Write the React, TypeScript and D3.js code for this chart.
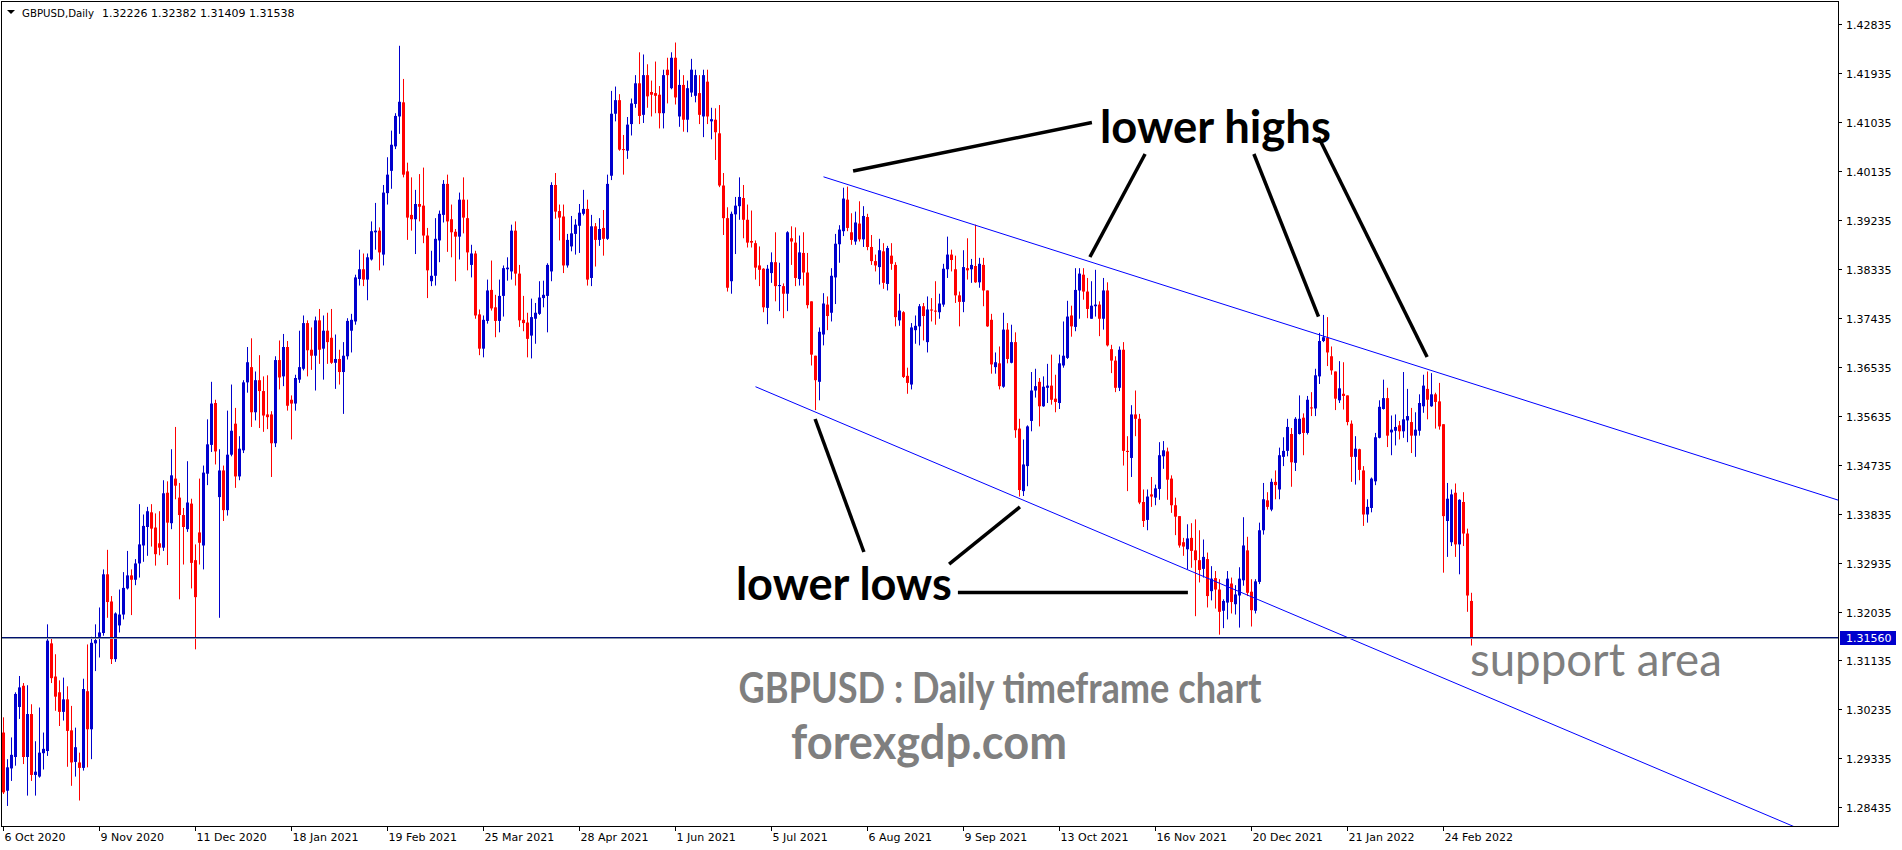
import * as d3 from "d3"

// GBPUSD daily candles, 6 Oct 2020 .. 7 Mar 2022, prices in pips (x 0.0001)
const opens = [
  12981, 12874, 12915, 12936, 13028, 13067, 12936, 13015, 12903, 12900, 12943, 12947, 13145, 13084, 13055, 13019, 13042, 12985, 12927, 12926,
  12916, 13057, 12987, 13145, 13157, 13164, 13272, 13222, 13116, 13178, 13198, 13246, 13270, 13262, 13292, 13325, 13359, 13386, 13358, 13329,
  13321, 13422, 13366, 13448, 13413, 13381, 13355, 13402, 13298, 13349, 13325, 13457, 13510, 13587, 13414, 13463, 13390, 13492, 13549, 13452,
  13500, 13625, 13653, 13570, 13629, 13609, 13566, 13566, 13513, 13666, 13636, 13690, 13593, 13586, 13630, 13650, 13734, 13685, 13674, 13739,
  13687, 13720, 13707, 13661, 13668, 13644, 13673, 13720, 13737, 13815, 13833, 13814, 13851, 13901, 13904, 13860, 13973, 14014, 14059, 14114,
  14140, 14013, 13933, 13925, 13953, 13950, 13895, 13811, 13821, 13886, 13933, 13990, 13925, 13902, 13893, 13961, 13927, 13841, 13862, 13750,
  13687, 13738, 13795, 13763, 13738, 13784, 13833, 13829, 13904, 13825, 13740, 13735, 13711, 13742, 13751, 13780, 13784, 13829, 13988, 13940,
  13930, 13840, 13875, 13898, 13913, 13935, 13944, 13817, 13912, 13887, 13909, 13889, 14005, 14119, 14144, 14054, 14051, 14100, 14137, 14175,
  14117, 14190, 14159, 14157, 14154, 14120, 14200, 14166, 14222, 14114, 14172, 14108, 14158, 14152, 14157, 14114, 14178, 14105, 14108, 14083,
  13987, 13927, 13811, 13934, 13949, 13964, 13924, 13885, 13881, 13840, 13834, 13762, 13826, 13846, 13802, 13802, 13788, 13890, 13882, 13815,
  13863, 13827, 13774, 13674, 13626, 13713, 13768, 13753, 13818, 13879, 13903, 13961, 13901, 13884, 13917, 13888, 13929, 13874, 13848, 13837,
  13866, 13806, 13858, 13841, 13739, 13754, 13637, 13621, 13721, 13728, 13765, 13699, 13759, 13757, 13754, 13768, 13833, 13860, 13833, 13785,
  13773, 13835, 13833, 13839, 13809, 13841, 13794, 13740, 13653, 13660, 13617, 13722, 13661, 13699, 13540, 13425, 13471, 13554, 13610, 13626,
  13581, 13615, 13619, 13595, 13587, 13656, 13670, 13748, 13727, 13794, 13823, 13792, 13742, 13765, 13768, 13742, 13794, 13686, 13665, 13615,
  13685, 13499, 13486, 13566, 13558, 13405, 13372, 13419, 13413, 13429, 13489, 13498, 13448, 13399, 13379, 13331, 13318, 13339, 13316, 13298,
  13282, 13300, 13241, 13265, 13244, 13205, 13220, 13255, 13217, 13233, 13261, 13316, 13240, 13205, 13258, 13353, 13408, 13391, 13442, 13428,
  13488, 13499, 13530, 13477, 13530, 13560, 13532, 13579, 13577, 13636, 13701, 13707, 13673, 13645, 13592, 13604, 13601, 13549, 13488, 13502,
  13463, 13382, 13394, 13443, 13523, 13576, 13596, 13533, 13536, 13546, 13535, 13555, 13552, 13527, 13536, 13581, 13613, 13581, 13603, 13590,
  13548, 13370, 13331, 13422, 13327, 13405, 13347, 13223,
]
const highs = [
  13009, 12932, 12972, 13055, 13085, 13072, 13068, 13033, 12965, 13027, 12981, 13180, 13154, 13125, 13077, 13082, 13066, 13030, 12990, 12944,
  13080, 13143, 13157, 13180, 13211, 13281, 13317, 13232, 13202, 13244, 13276, 13315, 13281, 13300, 13401, 13382, 13396, 13401, 13384, 13388,
  13445, 13443, 13502, 13543, 13440, 13394, 13480, 13411, 13327, 13448, 13472, 13557, 13626, 13593, 13502, 13472, 13573, 13621, 13578, 13526,
  13629, 13690, 13706, 13645, 13675, 13636, 13638, 13572, 13673, 13702, 13714, 13701, 13601, 13639, 13720, 13748, 13739, 13726, 13746, 13760,
  13748, 13753, 13760, 13713, 13685, 13699, 13743, 13751, 13823, 13869, 13862, 13862, 13921, 13955, 13910, 13988, 14039, 14088, 14120, 14244,
  14183, 14029, 14002, 13979, 14008, 14020, 13909, 13867, 13927, 13941, 13997, 14007, 13952, 13907, 13974, 14002, 13961, 13878, 13867, 13759,
  13748, 13814, 13849, 13786, 13814, 13840, 13855, 13915, 13921, 13841, 13784, 13753, 13779, 13771, 13811, 13812, 13844, 13993, 14010, 13952,
  13952, 13898, 13931, 13925, 13953, 13979, 13961, 13933, 13918, 13927, 13942, 14007, 14161, 14169, 14155, 14080, 14113, 14147, 14190, 14232,
  14228, 14210, 14180, 14215, 14170, 14200, 14222, 14232, 14250, 14200, 14190, 14180, 14220, 14200, 14190, 14200, 14200, 14130, 14129, 14135,
  14010, 13947, 13939, 13966, 14002, 13988, 13952, 13941, 13886, 13875, 13835, 13841, 13864, 13901, 13845, 13807, 13903, 13912, 13910, 13895,
  13901, 13863, 13774, 13674, 13726, 13789, 13783, 13835, 13898, 13914, 13983, 13985, 13936, 13939, 13958, 13949, 13935, 13896, 13860, 13889,
  13881, 13876, 13881, 13846, 13788, 13756, 13652, 13734, 13748, 13769, 13771, 13783, 13780, 13811, 13788, 13843, 13893, 13869, 13858, 13792,
  13868, 13890, 13852, 13915, 13854, 13854, 13794, 13751, 13680, 13691, 13753, 13734, 13731, 13717, 13558, 13520, 13546, 13644, 13650, 13633,
  13636, 13659, 13676, 13639, 13676, 13737, 13775, 13766, 13835, 13835, 13835, 13817, 13811, 13832, 13774, 13817, 13809, 13694, 13673, 13691,
  13699, 13526, 13583, 13610, 13567, 13428, 13428, 13451, 13437, 13515, 13517, 13505, 13454, 13413, 13379, 13339, 13364, 13366, 13373, 13353,
  13336, 13312, 13287, 13278, 13263, 13226, 13278, 13266, 13252, 13285, 13377, 13341, 13263, 13263, 13367, 13440, 13423, 13448, 13463, 13505,
  13524, 13558, 13541, 13561, 13601, 13568, 13600, 13607, 13650, 13716, 13749, 13745, 13691, 13645, 13664, 13662, 13601, 13555, 13526, 13503,
  13471, 13410, 13450, 13532, 13592, 13630, 13615, 13564, 13566, 13554, 13644, 13613, 13578, 13570, 13603, 13639, 13645, 13642, 13606, 13624,
  13548, 13440, 13428, 13439, 13410, 13423, 13356, 13238,
]
const lows = [
  12868, 12846, 12892, 12920, 13006, 12923, 12865, 12892, 12865, 12898, 12913, 12938, 13072, 13021, 12993, 13003, 12918, 12883, 12900, 12856,
  12911, 12917, 12932, 13094, 13119, 13159, 13192, 13107, 13111, 13165, 13189, 13244, 13197, 13252, 13266, 13295, 13306, 13323, 13288, 13307,
  13315, 13289, 13355, 13410, 13226, 13290, 13350, 13246, 13134, 13290, 13281, 13436, 13497, 13474, 13192, 13370, 13380, 13489, 13431, 13445,
  13495, 13606, 13543, 13555, 13541, 13534, 13539, 13451, 13506, 13612, 13618, 13573, 13520, 13573, 13624, 13647, 13636, 13648, 13610, 13659,
  13630, 13659, 13659, 13613, 13621, 13567, 13667, 13680, 13731, 13803, 13802, 13776, 13849, 13869, 13831, 13840, 13952, 13981, 14054, 14082,
  14002, 13887, 13904, 13861, 13921, 13881, 13780, 13802, 13803, 13846, 13919, 13865, 13855, 13811, 13851, 13899, 13831, 13818, 13742, 13675,
  13671, 13733, 13757, 13708, 13717, 13746, 13812, 13814, 13803, 13727, 13719, 13671, 13669, 13696, 13749, 13763, 13717, 13811, 13926, 13886,
  13826, 13836, 13866, 13860, 13863, 13932, 13803, 13802, 13838, 13876, 13858, 13887, 13997, 14105, 14051, 14007, 14036, 14079, 14130, 14100,
  14102, 14130, 14114, 14120, 14092, 14092, 14138, 14164, 14136, 14095, 14086, 14085, 14150, 14140, 14100, 14076, 14100, 14072, 14034, 13984,
  13896, 13792, 13788, 13861, 13924, 13890, 13873, 13873, 13814, 13802, 13754, 13732, 13808, 13774, 13756, 13743, 13756, 13841, 13802, 13803,
  13803, 13761, 13656, 13574, 13592, 13693, 13721, 13737, 13769, 13845, 13894, 13903, 13878, 13878, 13884, 13874, 13868, 13841, 13829, 13805,
  13797, 13794, 13832, 13728, 13729, 13633, 13604, 13612, 13696, 13693, 13702, 13680, 13737, 13731, 13742, 13764, 13817, 13829, 13771, 13728,
  13754, 13814, 13808, 13808, 13799, 13765, 13727, 13641, 13641, 13612, 13615, 13660, 13660, 13523, 13415, 13416, 13434, 13535, 13597, 13544,
  13580, 13587, 13584, 13570, 13576, 13652, 13668, 13709, 13719, 13742, 13777, 13743, 13742, 13746, 13710, 13722, 13691, 13642, 13607, 13609,
  13472, 13425, 13451, 13526, 13401, 13359, 13353, 13396, 13399, 13409, 13466, 13409, 13385, 13344, 13321, 13306, 13281, 13284, 13195, 13257,
  13266, 13211, 13224, 13209, 13161, 13173, 13189, 13200, 13198, 13174, 13251, 13232, 13176, 13200, 13254, 13345, 13391, 13388, 13410, 13410,
  13471, 13489, 13433, 13462, 13529, 13491, 13529, 13563, 13563, 13622, 13699, 13655, 13639, 13574, 13587, 13575, 13546, 13442, 13437, 13445,
  13361, 13367, 13386, 13436, 13522, 13575, 13506, 13491, 13509, 13520, 13523, 13515, 13495, 13488, 13527, 13569, 13557, 13580, 13540, 13538,
  13275, 13304, 13324, 13304, 13272, 13324, 13203, 13141,
]
const closes = [
  12871, 12917, 12940, 13052, 13064, 12936, 13015, 12903, 12909, 12944, 12951, 13150, 13081, 13047, 13019, 13042, 12984, 12926, 12954, 12916,
  13061, 12987, 13146, 13151, 13165, 13272, 13221, 13116, 13200, 13198, 13247, 13270, 13262, 13292, 13327, 13361, 13388, 13356, 13309, 13321,
  13421, 13367, 13454, 13435, 13381, 13359, 13404, 13293, 13230, 13330, 13459, 13511, 13586, 13498, 13463, 13390, 13492, 13536, 13452, 13503,
  13625, 13662, 13570, 13629, 13609, 13564, 13561, 13513, 13666, 13634, 13690, 13582, 13586, 13633, 13653, 13734, 13684, 13674, 13739, 13685,
  13720, 13699, 13661, 13668, 13644, 13674, 13738, 13740, 13818, 13833, 13814, 13855, 13903, 13904, 13864, 13974, 14007, 14062, 14115, 14141,
  14007, 13928, 13925, 13953, 13948, 13895, 13831, 13821, 13889, 13935, 13990, 13921, 13901, 13893, 13961, 13928, 13864, 13862, 13748, 13687,
  13740, 13794, 13761, 13738, 13784, 13835, 13836, 13904, 13825, 13739, 13734, 13705, 13745, 13753, 13781, 13786, 13841, 13988, 13939, 13928,
  13840, 13887, 13899, 13915, 13937, 13944, 13814, 13912, 13887, 13907, 13889, 13990, 14119, 14144, 14053, 14053, 14099, 14138, 14175, 14115,
  14190, 14151, 14154, 14152, 14120, 14190, 14190, 14222, 14149, 14172, 14108, 14166, 14200, 14190, 14117, 14190, 14114, 14109, 14085, 13987,
  13927, 13799, 13935, 13950, 13966, 13924, 13882, 13882, 13836, 13832, 13763, 13834, 13846, 13802, 13804, 13788, 13901, 13884, 13817, 13864,
  13827, 13767, 13676, 13629, 13718, 13770, 13747, 13821, 13880, 13906, 13963, 13909, 13887, 13919, 13888, 13931, 13874, 13848, 13840, 13868,
  13808, 13872, 13843, 13745, 13757, 13635, 13624, 13726, 13729, 13765, 13747, 13759, 13757, 13755, 13770, 13834, 13860, 13850, 13785, 13773,
  13837, 13831, 13841, 13809, 13843, 13794, 13728, 13658, 13662, 13618, 13722, 13668, 13699, 13537, 13427, 13474, 13544, 13610, 13618, 13581,
  13617, 13619, 13593, 13589, 13660, 13674, 13746, 13728, 13795, 13825, 13792, 13760, 13766, 13768, 13742, 13794, 13693, 13665, 13615, 13685,
  13499, 13497, 13566, 13558, 13404, 13370, 13415, 13415, 13430, 13491, 13500, 13446, 13399, 13378, 13325, 13323, 13338, 13315, 13298, 13280,
  13304, 13232, 13264, 13244, 13203, 13223, 13264, 13221, 13235, 13264, 13325, 13238, 13206, 13259, 13353, 13410, 13396, 13442, 13436, 13491,
  13499, 13543, 13478, 13558, 13558, 13532, 13593, 13577, 13638, 13701, 13708, 13680, 13647, 13595, 13614, 13600, 13552, 13488, 13503, 13464,
  13382, 13396, 13448, 13524, 13580, 13596, 13527, 13538, 13543, 13535, 13557, 13563, 13527, 13538, 13587, 13619, 13593, 13603, 13589, 13544,
  13379, 13411, 13419, 13327, 13409, 13347, 13233, 13154,
]

const lastQuote = ["1.32226", "1.32382", "1.31409", "1.31538"]

const dateLabels = [
  "6 Oct 2020", "9 Nov 2020", "11 Dec 2020", "18 Jan 2021", "19 Feb 2021", "25 Mar 2021", "28 Apr 2021", "1 Jun 2021",
  "5 Jul 2021", "6 Aug 2021", "9 Sep 2021", "13 Oct 2021", "16 Nov 2021", "20 Dec 2021", "21 Jan 2022", "24 Feb 2022",
]
const dateLabelBars = [0, 24, 48, 72, 96, 120, 144, 168, 192, 216, 240, 264, 288, 312, 336, 360]

const priceTicks = [
  1.28435, 1.29335, 1.30235, 1.31135, 1.32035, 1.32935, 1.33835, 1.34735, 1.35635,
  1.36535, 1.37435, 1.38335, 1.39235, 1.40135, 1.41035, 1.41935, 1.42835,
]

const supportLevel = 1.3156

// channel lines as [bar, price, bar, price], drawn as rays to the right
const upperChannel = [205, 1.4003, 330, 1.371]
const lowerChannel = [188, 1.3617, 300, 1.3268]

// black pointer lines of the annotations, [bar, price, bar, price]
const pointerLines = [
  [272.1, 1.41029, 212.4, 1.40137],
  [285.4, 1.4045, 271.6, 1.38555],
  [312.6, 1.4045, 328.75, 1.37459],
  [328.75, 1.40762, 355.9, 1.36716],
  [202.9, 1.35576, 215.1, 1.3313],
  [254.1, 1.33958, 236.4, 1.32909],
  [238.6, 1.32385, 296.1, 1.32385],
]

const notes = [
  { text: "lower highs", bar: 274.1, price: 1.40652, anchor: "start", size: 45, weight: 700, fill: "#000", len: 231 },
  { text: "lower lows", bar: 183.1, price: 1.32247, anchor: "start", size: 45, weight: 700, fill: "#000", len: 216 },
  { text: "GBPUSD : Daily timeframe chart", bar: 249.1, price: 1.30353, anchor: "middle", size: 42, weight: 700, fill: "#7f7f7f", len: 523 },
  { text: "forexgdp.com", bar: 231.4, price: 1.29323, anchor: "middle", size: 48, weight: 700, fill: "#7f7f7f", len: 276 },
  { text: "support area", bar: 366.6, price: 1.3085, anchor: "start", size: 47, weight: 400, fill: "#7f7f7f", len: 252 },
]

const W = 1902
const H = 850
const frame = { left: 2, top: 2, right: 1838, bottom: 826 }
const BULL = "#0000cd"
const BEAR = "#ff0000"
const AXIS_FONT = "'DejaVu Sans', Verdana, sans-serif"
const NOTE_FONT = "Lato, 'Open Sans', sans-serif"

export default function App() {
  const pip = (v: number) => v / 10000
  const x = d3.scaleLinear().domain([0, 367]).range([3.5, 1471.5])
  const y = d3.scaleLinear().domain([1.28435, 1.42835]).range([807.3, 24.3])

  const ray = (c: number[]) => {
    const slope = (c[3] - c[1]) / (c[2] - c[0])
    const farBar = 600
    return { x1: x(c[0]), y1: y(c[1]), x2: x(farBar), y2: y(c[1] + slope * (farBar - c[0])) }
  }
  const up = ray(upperChannel)
  const lo = ray(lowerChannel)
  const ySupport = Math.round(y(supportLevel)) + 0.5

  return (
    <svg
      width={W}
      height={H}
      viewBox={`0 0 ${W} ${H}`}
      style={{ position: "absolute", left: 0, top: 0, background: "#fff", display: "block" }}
    >
      <defs>
        <clipPath id="plot-clip">
          <rect x={frame.left} y={frame.top} width={frame.right - frame.left} height={frame.bottom - frame.top} />
        </clipPath>
      </defs>
      <rect x={0} y={0} width={W} height={H} fill="#fff" />

      {/* candles */}
      <g clipPath="url(#plot-clip)">
        {closes.map((c, i) => {
          const o = pip(opens[i])
          const cl = pip(c)
          const bull = cl >= o
          const color = bull ? BULL : BEAR
          const top = y(Math.max(o, cl))
          const bot = y(Math.min(o, cl))
          return (
            <g key={i}>
              <line x1={x(i)} x2={x(i)} y1={y(pip(highs[i]))} y2={y(pip(lows[i]))} stroke={color} strokeWidth={1} />
              <rect x={x(i) - 1.5} y={top} width={3} height={Math.max(1, bot - top)} fill={color} />
            </g>
          )
        })}

        {/* channel */}
        <line {...up} stroke="#0000ff" strokeWidth={1} />
        <line {...lo} stroke="#0000ff" strokeWidth={1} />

        {/* support line */}
        <line x1={frame.left} x2={frame.right} y1={ySupport} y2={ySupport} stroke="#00106e" strokeWidth={1} />
        <line x1={frame.left} x2={frame.right} y1={ySupport + 1} y2={ySupport + 1} stroke="#8a98ac" strokeWidth={1} />
      </g>

      {/* annotation pointers */}
      {pointerLines.map((p, i) => (
        <line key={i} x1={x(p[0])} y1={y(p[1])} x2={x(p[2])} y2={y(p[3])} stroke="#000" strokeWidth={3.5} />
      ))}

      {notes.map((n) => (
        <text
          key={n.text}
          x={x(n.bar)}
          y={y(n.price)}
          textAnchor={n.anchor as "start" | "middle"}
          fontFamily={NOTE_FONT}
          fontSize={n.size}
          fontWeight={n.weight}
          fill={n.fill}
          textLength={n.len}
          lengthAdjust="spacingAndGlyphs"
        >
          {n.text}
        </text>
      ))}

      {/* frame */}
      <rect
        x={frame.left - 0.5}
        y={frame.top - 0.5}
        width={frame.right - frame.left + 1}
        height={frame.bottom - frame.top + 1}
        fill="none"
        stroke="#000"
        strokeWidth={1}
      />

      {/* price axis */}
      {priceTicks.map((t) => {
        const ty = Math.round(y(t)) + 0.5
        return (
          <g key={t}>
            <line x1={frame.right + 0.5} x2={frame.right + 4} y1={ty} y2={ty} stroke="#000" />
            <text x={1846} y={ty + 4} fontFamily={AXIS_FONT} fontSize={11} fill="#000">
              {t.toFixed(5)}
            </text>
          </g>
        )
      })}
      <rect x={1840} y={ySupport - 6.5} width={56} height={14} fill="#0000cd" />
      <text x={1846} y={ySupport + 4} fontFamily={AXIS_FONT} fontSize={11} fill="#fff">
        {supportLevel.toFixed(5)}
      </text>

      {/* date axis */}
      {dateLabels.map((d, i) => {
        const tx = Math.round(x(dateLabelBars[i]) - 0.5) + 0.5
        return (
          <g key={d}>
            <line x1={tx} x2={tx} y1={frame.bottom + 0.5} y2={frame.bottom + 5} stroke="#000" />
            <text x={tx + 1} y={841} fontFamily={AXIS_FONT} fontSize={11} fill="#000">
              {d}
            </text>
          </g>
        )
      })}

      {/* header */}
      <path d="M7,10 L15,10 L11,14 Z" fill="#000" />
      <text x={22} y={17} fontFamily={AXIS_FONT} fontSize={11} fill="#000" textLength={72} lengthAdjust="spacingAndGlyphs">
        GBPUSD,Daily
      </text>
      <text x={102} y={17} fontFamily={AXIS_FONT} fontSize={11} fill="#000">
        {lastQuote.join(" ")}
      </text>
    </svg>
  )
}
